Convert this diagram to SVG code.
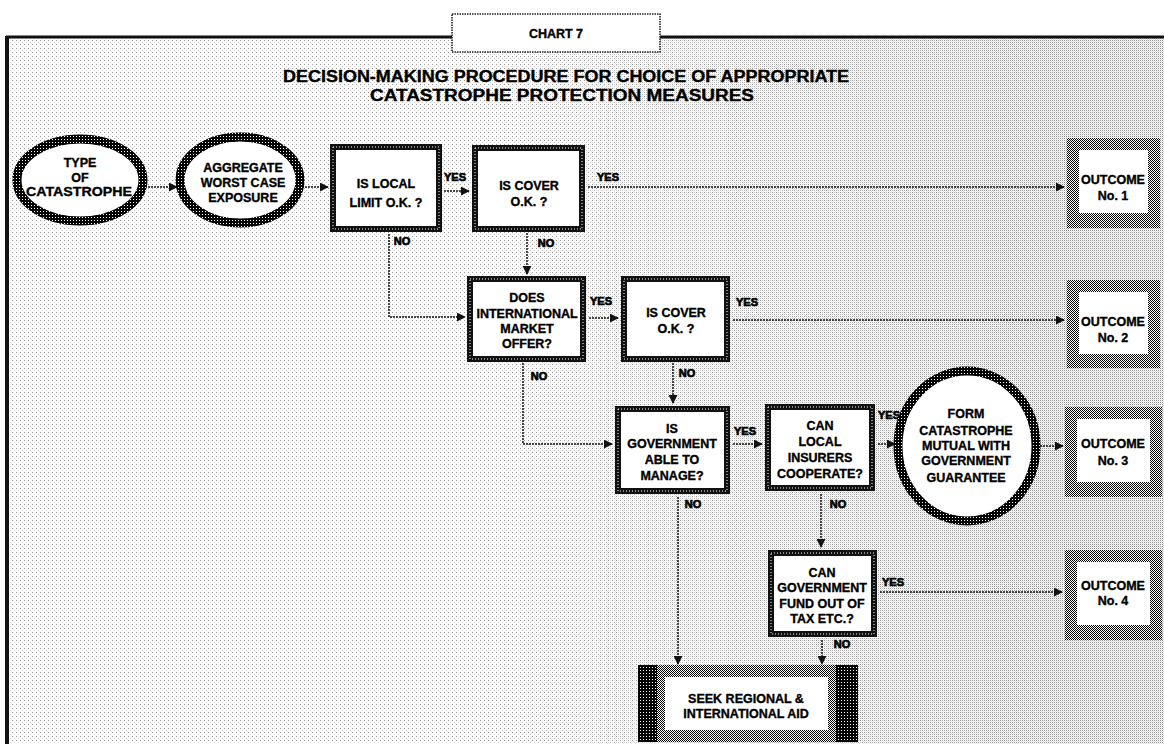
<svg xmlns="http://www.w3.org/2000/svg" width="1164" height="744" viewBox="0 0 1164 744">
<defs>
<pattern id="bgA" width="4" height="4" patternUnits="userSpaceOnUse"><rect width="4" height="4" fill="#fff"/><rect x="0" y="0" width="1" height="1" fill="#999"/><rect x="2" y="2" width="1" height="1" fill="#d0d0d0"/></pattern>
<pattern id="bgB" width="2" height="2" patternUnits="userSpaceOnUse"><rect width="2" height="2" fill="#fff"/><rect x="0" y="0" width="1" height="1" fill="#8c8c8c"/><rect x="1" y="1" width="1" height="1" fill="#e0e0e0"/></pattern>
<pattern id="half" width="2" height="2" patternUnits="userSpaceOnUse"><rect width="2" height="2" fill="#fff"/><rect x="0" y="0" width="1" height="1" fill="#000"/><rect x="1" y="1" width="1" height="1" fill="#000"/></pattern>
<pattern id="dark" width="3" height="3" patternUnits="userSpaceOnUse"><rect width="3" height="3" fill="#000"/><rect x="1" y="1" width="1" height="1" fill="#fff"/></pattern>
<linearGradient id="gm" x1="0" y1="0" x2="1" y2="0"><stop offset="0.4" stop-color="#000"/><stop offset="0.9" stop-color="#fff"/></linearGradient>
<mask id="rmask" maskUnits="userSpaceOnUse" x="0" y="0" width="1164" height="744"><rect x="0" y="0" width="1164" height="744" fill="url(#gm)"/></mask>
<marker id="ah" viewBox="0 0 10 10" refX="9" refY="5" markerWidth="9" markerHeight="9" markerUnits="userSpaceOnUse" orient="auto"><path d="M0,0 L10,5 L0,10 z" fill="#111"/></marker>
</defs>
<style>
text{font-family:"Liberation Sans",Arial,sans-serif;font-weight:bold;fill:#000;stroke:#000;stroke-width:0.35;text-anchor:middle}
.t{font-size:12.5px}
.lb{font-size:11px;stroke-width:0.7}
.ttl{font-size:16px}
.box{fill:#fff;stroke:#111;stroke-width:6}
.boxt{fill:none;stroke:#fff;stroke-width:1;stroke-dasharray:1 2}
.ell{fill:#fff;stroke:url(#dark);stroke-width:9}
.oc{fill:url(#half)}
.oci{fill:#fff}
.cna{fill:none;stroke:#111;stroke-width:1.5;stroke-dasharray:2 1;marker-end:url(#ah)}
</style>
<rect width="1164" height="744" fill="#fff"/>
<g id="frame">
<rect x="8" y="38" width="1156" height="706" fill="url(#bgA)"/>
<rect x="8" y="38" width="1156" height="706" fill="url(#bgB)" mask="url(#rmask)"/>
<line x1="6" y1="37" x2="1164" y2="37" stroke="#111" stroke-width="3"/>
<line x1="7" y1="36" x2="7" y2="744" stroke="#111" stroke-width="4"/>
</g>
<g id="chart7">
<rect x="452" y="14" width="208" height="38" fill="#fff" stroke="#222" stroke-width="1.6" stroke-dasharray="1.5 1"/>
<text class="t" x="556" y="38">CHART 7</text>
</g>
<g id="title">
<text class="ttl" x="566" y="82" textLength="566" lengthAdjust="spacingAndGlyphs">DECISION-MAKING PROCEDURE FOR CHOICE OF APPROPRIATE</text>
<text class="ttl" x="562" y="101" textLength="384" lengthAdjust="spacingAndGlyphs">CATASTROPHE PROTECTION MEASURES</text>
</g>
<g id="connectors">
<path class="cna" d="M145 187 H177"/>
<path class="cna" d="M302 187 H328"/>
<path class="cna" d="M444 191 H469"/>
<path class="cna" d="M588 187 H1064"/>
<path class="cna" d="M527 233 V274"/>
<path class="cna" d="M389 234 V317 H465"/>
<path class="cna" d="M589 318 H618"/>
<path class="cna" d="M733 320 H1064"/>
<path class="cna" d="M673 363 V403"/>
<path class="cna" d="M523 363 V444 H612"/>
<path class="cna" d="M733 444 H762"/>
<path class="cna" d="M878 444 H895"/>
<path class="cna" d="M1040 446 H1063"/>
<path class="cna" d="M821 494 V547"/>
<path class="cna" d="M880 592 H1062"/>
<path class="cna" d="M822 640 V664"/>
<path class="cna" d="M678 497 V664"/>
<text class="lb" x="455" y="181">YES</text>
<text class="lb" x="608" y="181">YES</text>
<text class="lb" x="546" y="247">NO</text>
<text class="lb" x="402" y="245">NO</text>
<text class="lb" x="601" y="305">YES</text>
<text class="lb" x="747" y="306">YES</text>
<text class="lb" x="687" y="377">NO</text>
<text class="lb" x="539" y="380">NO</text>
<text class="lb" x="745" y="435">YES</text>
<text class="lb" x="889" y="419">YES</text>
<text class="lb" x="838" y="508">NO</text>
<text class="lb" x="893" y="586">YES</text>
<text class="lb" x="842" y="648">NO</text>
<text class="lb" x="693" y="508">NO</text>
</g>
<g id="n1">
<ellipse class="ell" cx="80" cy="180" rx="63" ry="41"/>
<text class="t" x="80" y="167">TYPE</text>
<text class="t" x="80" y="182">OF</text>
<text class="t" x="79" y="196" textLength="106" lengthAdjust="spacingAndGlyphs">CATASTROPHE</text>
</g>
<g id="n2">
<ellipse class="ell" cx="240" cy="180" rx="60" ry="43"/>
<text class="t" x="243" y="172">AGGREGATE</text>
<text class="t" x="243" y="187">WORST CASE</text>
<text class="t" x="243" y="202">EXPOSURE</text>
</g>
<g id="n3">
<rect class="box" x="333" y="147" width="106" height="82"/>
<rect class="boxt" x="333" y="147" width="106" height="82"/>
<text class="t" x="386" y="188">IS LOCAL</text>
<text class="t" x="386" y="207">LIMIT O.K. ?</text>
</g>
<g id="n4">
<rect class="box" x="475" y="148" width="107" height="81"/>
<rect class="boxt" x="475" y="148" width="107" height="81"/>
<text class="t" x="529" y="190">IS COVER</text>
<text class="t" x="529" y="206">O.K. ?</text>
</g>
<g id="n5">
<rect class="box" x="470" y="279" width="113" height="80"/>
<rect class="boxt" x="470" y="279" width="113" height="80"/>
<text class="t" x="527" y="302">DOES</text>
<text class="t" x="527" y="318">INTERNATIONAL</text>
<text class="t" x="527" y="333">MARKET</text>
<text class="t" x="527" y="348">OFFER?</text>
</g>
<g id="n6">
<rect class="box" x="624" y="279" width="103" height="80"/>
<rect class="boxt" x="624" y="279" width="103" height="80"/>
<text class="t" x="676" y="317">IS COVER</text>
<text class="t" x="676" y="333">O.K. ?</text>
</g>
<g id="n7">
<rect class="box" x="618" y="409" width="109" height="82"/>
<rect class="boxt" x="618" y="409" width="109" height="82"/>
<text class="t" x="672" y="433">IS</text>
<text class="t" x="672" y="448">GOVERNMENT</text>
<text class="t" x="672" y="464">ABLE TO</text>
<text class="t" x="672" y="480">MANAGE?</text>
</g>
<g id="n8">
<rect class="box" x="768" y="407" width="104" height="81"/>
<rect class="boxt" x="768" y="407" width="104" height="81"/>
<text class="t" x="820" y="430">CAN</text>
<text class="t" x="820" y="446">LOCAL</text>
<text class="t" x="820" y="462">INSURERS</text>
<text class="t" x="820" y="478">COOPERATE?</text>
</g>
<g id="n9">
<ellipse class="ell" cx="967" cy="446" rx="69" ry="75"/>
<text class="t" x="966" y="418">FORM</text>
<text class="t" x="966" y="435">CATASTROPHE</text>
<text class="t" x="966" y="450">MUTUAL WITH</text>
<text class="t" x="966" y="465">GOVERNMENT</text>
<text class="t" x="966" y="482">GUARANTEE</text>
</g>
<g id="n10">
<rect class="box" x="771" y="553" width="103" height="81"/>
<rect class="boxt" x="771" y="553" width="103" height="81"/>
<text class="t" x="822" y="577">CAN</text>
<text class="t" x="822" y="592">GOVERNMENT</text>
<text class="t" x="822" y="608">FUND OUT OF</text>
<text class="t" x="822" y="623">TAX ETC.?</text>
</g>
<g id="o1">
<rect class="oc" x="1067" y="138" width="93" height="90"/>
<rect class="oci" x="1079" y="150" width="69" height="63"/>
<text class="t" x="1113" y="184">OUTCOME</text>
<text class="t" x="1113" y="200">No. 1</text>
</g>
<g id="o2">
<rect class="oc" x="1067" y="280" width="93" height="88"/>
<rect class="oci" x="1079" y="292" width="69" height="62"/>
<text class="t" x="1113" y="326">OUTCOME</text>
<text class="t" x="1113" y="342">No. 2</text>
</g>
<g id="o3">
<rect class="oc" x="1065" y="407" width="97" height="90"/>
<rect class="oci" x="1077" y="419" width="73" height="63"/>
<text class="t" x="1113" y="448">OUTCOME</text>
<text class="t" x="1113" y="465">No. 3</text>
</g>
<g id="o4">
<rect class="oc" x="1065" y="550" width="97" height="90"/>
<rect class="oci" x="1077" y="562" width="73" height="63"/>
<text class="t" x="1113" y="590">OUTCOME</text>
<text class="t" x="1113" y="605">No. 4</text>
</g>
<g id="n11">
<rect class="oc" x="638" y="665" width="220" height="77"/>
<rect x="638" y="665" width="19" height="77" fill="url(#dark)"/>
<rect x="836" y="665" width="22" height="77" fill="url(#dark)"/>
<rect class="oci" x="665" y="677" width="163" height="53"/>
<text class="t" x="746" y="703">SEEK REGIONAL &amp;</text>
<text class="t" x="746" y="718">INTERNATIONAL AID</text>
</g>
</svg>
